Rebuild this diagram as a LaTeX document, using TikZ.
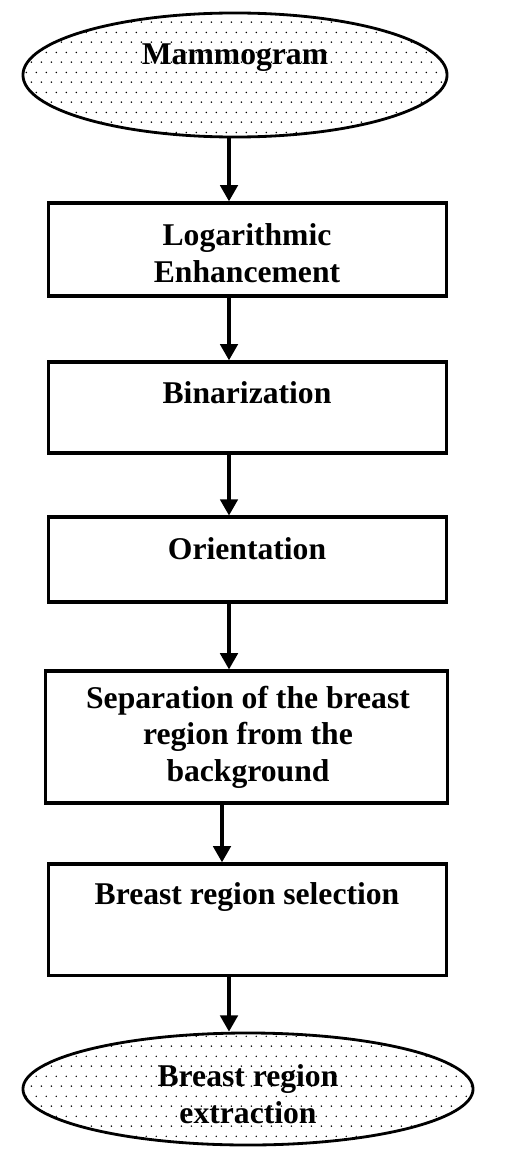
\documentclass[tikz,border=0pt]{standalone}
\usepackage{fontspec}
\setmainfont{Liberation Serif}
\usetikzlibrary{patterns.meta, arrows.meta, shapes.geometric, positioning}

\tikzdeclarepattern{
  name=sparsedots,
  type=uncolored,
  bounding box={(0pt,0pt) and (7pt,14pt)},
  tile size={(7pt,14pt)},
  code={
    \fill (1.75pt,3.5pt) circle (0.6pt);
    \fill (5.25pt,10.5pt) circle (0.6pt);
  }
}

\tikzset{
  stepbox/.style={draw, line width=2.3pt, rectangle, minimum width=9.95cm, inner sep=0pt},
  endoval/.style={draw, line width=2pt, ellipse, inner sep=0pt, pattern={sparsedots}},
  lbl/.style={font=\bfseries\fontsize{22.5}{26}\selectfont, align=center, inner sep=0pt},
  arr/.style={line width=2.2pt, -{Triangle[length=11.5pt,width=12.5pt]}}
}

\begin{document}
\begin{tikzpicture}[x=0.025cm, y=-0.025cm]
\useasboundingbox (0,0) rectangle (506,1170);

% columns of the connectors
\coordinate (colA) at (229,0);
\coordinate (colB) at (222,0);

% Inicio: elipse punteada
\node[endoval, minimum width=10.6cm, minimum height=3.1cm] (mammo) at (235,75) {};
\node[lbl] (mammoT) at (235,58) {Mammogram};

% Paso 1
\node[stepbox, minimum height=2.33cm] (logE) at (247.5,249.5) {};
\node[lbl] (logT) at (247,253) {Logarithmic\\Enhancement};

% Paso 2
\node[stepbox, minimum height=2.28cm] (bin) at (247.5,407.5) {};
\node[lbl] (binT) at (247,393) {Binarization};

% Paso 3
\node[stepbox, minimum height=2.12cm] (ori) at (247.5,559.5) {};
\node[lbl] (oriT) at (247,549) {Orientation};

% Paso 4
\node[stepbox, minimum width=10.03cm, minimum height=3.3cm] (sep) at (246.5,737) {};
\node[lbl] (sepT) at (248,737) {Separation of the breast\\region from the\\background};

% Paso 5
\node[stepbox, minimum height=2.78cm] (sel) at (247.5,919.5) {};
\node[lbl] (selT) at (247,897) {Breast region selection};

% Fin: elipse punteada
\node[endoval, minimum width=11.25cm, minimum height=2.8cm] (ext) at (248,1089) {};
\node[lbl] (extT) at (248,1094) {Breast region\\extraction};

% Conectores
\draw[arr] (mammo.south -| colA) -- (logE.north -| colA);
\draw[arr] (logE.south -| colA) -- (bin.north -| colA);
\draw[arr] (bin.south -| colA) -- (ori.north -| colA);
\draw[arr] (ori.south -| colA) -- (sep.north -| colA);
\draw[arr] (sep.south -| colB) -- (sel.north -| colB);
\draw[arr] (sel.south -| colA) -- (ext.north -| colA);
\end{tikzpicture}
\end{document}
